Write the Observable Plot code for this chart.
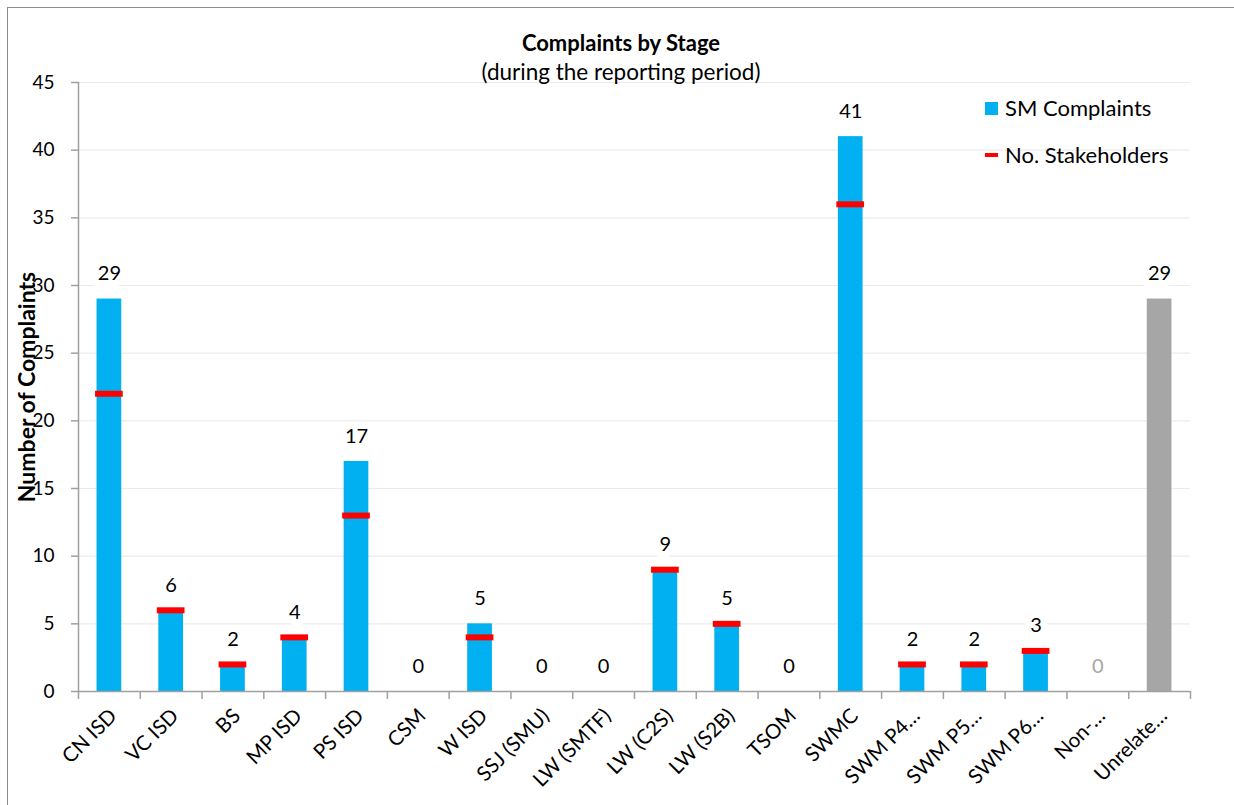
<!DOCTYPE html>
<html>
<head>
<meta charset="utf-8">
<script src="https://cdn.jsdelivr.net/npm/d3@7"></script>
<script src="https://cdn.jsdelivr.net/npm/@observablehq/plot@0.6"></script>
<style>
  html, body { margin: 0; padding: 0; background: #fff; }
  body { width: 1234px; height: 805px; position: relative; overflow: hidden; font-family: Lato, "Noto Sans", sans-serif; }
  #frame { position: absolute; left: 7px; top: 7px; width: 1240px; height: 810px; border: 1.5px solid #8c8c8c; box-sizing: border-box; pointer-events: none; }
  #chart { position: absolute; left: 0; top: 0; }
  .title { position: absolute; left: 371px; width: 500px; text-align: center; color: #000; line-height: 26px; }
  #t1 { top: 30px; font-size: 22px; font-weight: bold; }
  #t2 { top: 59px; font-size: 22.5px; }
  .leg { position: absolute; left: 985px; font-size: 22px; line-height: 26px; color: #000; display: flex; align-items: center; }
  .sw { display: inline-block; width: 13px; margin-right: 7px; }
  g[aria-label="y-axis label"] text { font-weight: bold; font-size: 23px; }
</style>
</head>
<body>
<div id="chart"></div>
<div id="t1" class="title">Complaints by Stage</div>
<div id="t2" class="title">(during the reporting period)</div>
<div class="leg" style="top:95px"><span class="sw" style="height:13px;background:#00b0f0"></span>SM Complaints</div>
<div class="leg" style="top:142px"><span class="sw" style="height:4px;background:#ff0000"></span>No. Stakeholders</div>
<div id="frame"></div>
<script>
const categories = ["CN ISD","VC ISD","BS","MP ISD","PS ISD","CSM","W ISD","SSJ (SMU)","LW (SMTF)","LW (C2S)","LW (S2B)","TSOM","SWMC","SWM P4…","SWM P5…","SWM P6…","Non-…","Unrelate…"];
const complaints = [29,6,2,4,17,0,5,0,0,9,5,0,41,2,2,3,0,29];
const stakeholders = [22,6,2,4,13,null,4,null,null,9,5,null,36,2,2,3,null,null];
const yTicks = [0,5,10,15,20,25,30,35,40,45];
const grayCategories = ["Non-…","Unrelate…"];

const data = categories.map((c, i) => ({cat: c, value: complaints[i], stake: stakeholders[i]}));
const stakeData = data.filter(d => d.stake != null);
const step = (1190 - 78) / categories.length;

const chart = Plot.plot({
  width: 1234,
  height: 805,
  marginLeft: 78,
  marginRight: 44,
  marginTop: 82,
  marginBottom: 114,
  style: {fontFamily: "Lato, 'Noto Sans', sans-serif", fontSize: "19px", color: "#000", background: "transparent"},
  x: {domain: categories, paddingInner: 0.6, paddingOuter: 0.3, round: false, label: null},
  y: {domain: [0, 45], ticks: yTicks, label: "Number of Complaints"},
  marks: [
    Plot.gridY(yTicks.filter(t => t > 0), {stroke: "#ebebeb", strokeOpacity: 1, strokeWidth: 1.2}),
    Plot.barY(data, {x: "cat", y: "value", fill: d => grayCategories.includes(d.cat) ? "#a6a6a6" : "#00b0f0"}),
    Plot.tickY(stakeData, {x: "cat", y: "stake", stroke: "#ff0000", strokeWidth: 6, insetLeft: -1.5, insetRight: -1.5}),
    Plot.text(data, {x: "cat", y: "value", text: d => String(d.value), dy: -25, fill: d => d.cat === "Non-…" ? "#a6a6a6" : "#000", stroke: "white", strokeWidth: 14, fontSize: 20}),
    Plot.ruleY([0], {stroke: "#a0a0a0", strokeWidth: 1.5}),
    Plot.ruleX(data, {x: "cat", y1: 0, y2: 0, insetBottom: -8, dx: -step / 2, stroke: "#a0a0a0", strokeWidth: 1.5}),
    Plot.ruleX(data.slice(-1), {x: "cat", y1: 0, y2: 0, insetBottom: -8, dx: step / 2, stroke: "#a0a0a0", strokeWidth: 1.5}),
    Plot.frame({anchor: "left", stroke: "#a0a0a0", strokeWidth: 1.5}),
    Plot.axisY({ticks: yTicks, tickSize: 7, tickPadding: 17, stroke: "#a0a0a0", strokeWidth: 1.5, fontSize: 19, label: "Number of Complaints", labelAnchor: "center", labelOffset: 60, labelArrow: "none"}),
    Plot.axisX({tickSize: 0, tickRotate: -45, tickPadding: 21, fontSize: 20.5, label: null, dx: 4})
  ]
});
document.getElementById("chart").appendChild(chart);
</script>
</body>
</html>
